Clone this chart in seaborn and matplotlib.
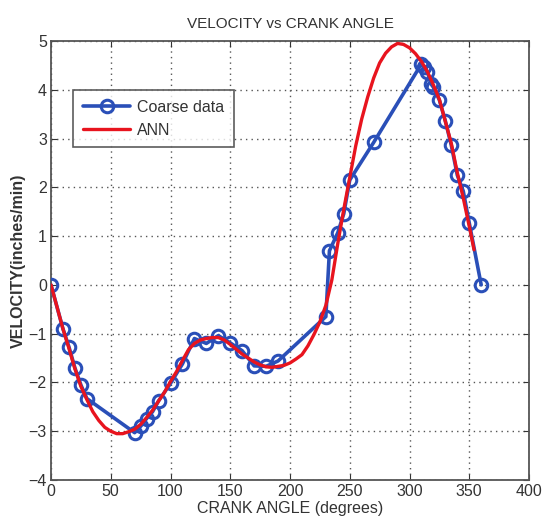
import matplotlib
matplotlib.use("Agg")
import matplotlib.pyplot as plt
import seaborn as sns
import pandas as pd

# Coarse measured velocity samples
coarse_angle = [0, 10, 15, 20, 25, 30, 70, 75, 80, 85, 90, 100, 110, 120, 130,
                140, 150, 160, 170, 180, 190, 230, 233, 240, 245, 250, 270,
                310, 312, 315, 318, 320, 325, 330, 335, 340, 345, 350, 360]
coarse_vel = [0.0, -0.9, -1.27, -1.7, -2.05, -2.33, -3.03, -2.9, -2.74, -2.6,
              -2.38, -2.02, -1.62, -1.1, -1.2, -1.04, -1.19, -1.35, -1.66,
              -1.67, -1.56, -0.65, 0.7, 1.07, 1.46, 2.15, 2.92,
              4.53, 4.46, 4.36, 4.12, 4.05, 3.79, 3.36, 2.86, 2.25, 1.92,
              1.27, 0.0]

# ANN prediction
ann_angle = [0, 5, 10, 15, 20, 25, 30, 35, 40, 45, 50, 55, 60, 65, 70, 75,
             80, 85, 90, 95, 100, 105, 110, 115, 120, 125, 130, 135, 140,
             145, 150, 155, 160, 165, 170, 175, 180, 185, 190, 195, 200,
             205, 210, 215, 220, 225, 230, 235, 240, 245, 250, 255, 260,
             265, 270, 275, 280, 285, 290, 295, 300, 305, 310, 315, 320,
             325, 330, 335, 340, 345, 350, 354]
ann_vel = [0.0, -0.45, -0.9, -1.3, -1.72, -2.08, -2.35, -2.6, -2.78, -2.92,
           -3.0, -3.05, -3.05, -3.01, -2.96, -2.86, -2.72, -2.57, -2.38,
           -2.2, -1.98, -1.78, -1.55, -1.33, -1.2, -1.13, -1.1, -1.08,
           -1.08, -1.13, -1.22, -1.32, -1.42, -1.5, -1.58, -1.64, -1.68,
           -1.69, -1.67, -1.65, -1.6, -1.52, -1.43, -1.25, -1.02, -0.76,
           -0.42, 0.1, 0.85, 1.55, 2.2, 2.85, 3.4, 3.85, 4.24, 4.55, 4.75,
           4.88, 4.95, 4.93, 4.86, 4.74, 4.58, 4.37, 4.1, 3.8, 3.35, 2.9,
           2.3, 1.78, 1.2, 0.72]

x_ticks = [0, 50, 100, 150, 200, 250, 300, 350, 400]
y_ticks = [-4, -3, -2, -1, 0, 1, 2, 3, 4, 5]

sns.set_style("white")
plt.rcParams["font.family"] = ["Liberation Sans", "DejaVu Sans"]

coarse_df = pd.DataFrame({"angle": coarse_angle, "vel": coarse_vel})
ann_df = pd.DataFrame({"angle": ann_angle, "vel": ann_vel})

fig = plt.figure(figsize=(5.49, 5.25), dpi=100)
ax = fig.add_axes([51 / 549, 45 / 525, 478 / 549, 439 / 525])

blue = "#2a4fb8"
red = "#e8141e"

sns.lineplot(data=coarse_df, x="angle", y="vel", ax=ax, color=blue,
             linewidth=2.6, marker="o", markersize=9, markerfacecolor="none",
             markeredgecolor=blue, markeredgewidth=2.2, sort=False,
             label="Coarse data", zorder=3)
sns.lineplot(data=ann_df, x="angle", y="vel", ax=ax, color=red,
             linewidth=2.4, sort=False, label="ANN", zorder=4)

ax.set_xlim(0, 400)
ax.set_ylim(-4, 5)
ax.set_xticks(x_ticks)
ax.set_yticks(y_ticks)
ax.tick_params(direction="in", length=4, labelsize=11.5, colors="#333333",
               top=True, right=True, bottom=True, left=True, pad=3)
ax.grid(True, linestyle=(0, (1, 3)), color="#555555", linewidth=1.0)

for s in ax.spines.values():
    s.set_color("#555555")
    s.set_linewidth(1.3)
    s.set_visible(True)

ax.set_title("VELOCITY vs CRANK ANGLE", fontsize=11, color="#333333", pad=9)
ax.set_xlabel("CRANK ANGLE (degrees)", fontsize=11.5, color="#333333",
              labelpad=1)
ax.set_ylabel("VELOCITY(inches/min)", fontsize=11.5, color="#333333",
              fontweight="bold", labelpad=2)

leg = ax.legend(loc="upper left", bbox_to_anchor=(0.046, 0.888),
                borderaxespad=0, fontsize=11.5, frameon=True, fancybox=False,
                handlelength=3.0, borderpad=0.6, labelspacing=0.5,
                handletextpad=0.4)
leg.get_frame().set_edgecolor("#333333")
leg.get_frame().set_linewidth(1.2)
for t in leg.get_texts():
    t.set_color("#333333")

fig.savefig("out.png", dpi=100)
